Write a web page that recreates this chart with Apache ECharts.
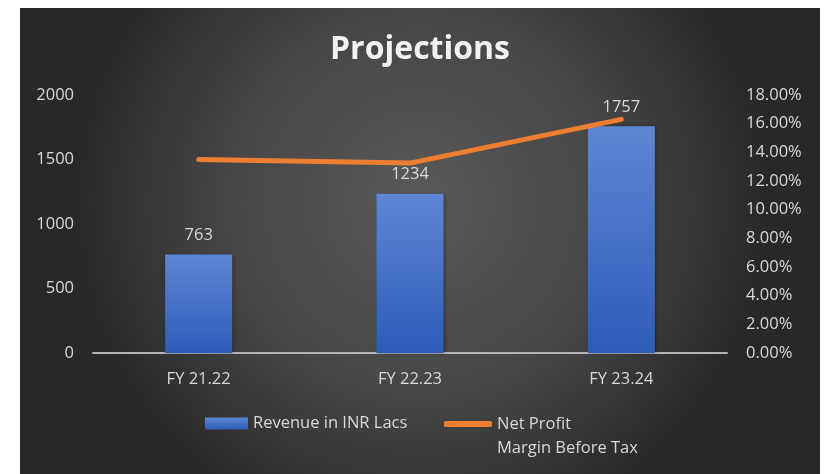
<!DOCTYPE html>
<html>
<head>
<meta charset="utf-8">
<script src="https://cdn.jsdelivr.net/npm/echarts@6/dist/echarts.min.js"></script>
<style>
  html, body { margin: 0; padding: 0; background: #fff; }
  #main { position: absolute; left: 20px; top: 8px; width: 800px; height: 466px; }
</style>
</head>
<body>
<div id="main"></div>
<script>
// data
const categories = ['FY 21.22', 'FY 22.23', 'FY 23.24']
const revenue = [763, 1234, 1757]
const margin = [13.5, 13.25, 16.3]   // percent
const leftTicks = [0, 2000, 500]     // min, max, interval
const rightTicks = [0, 18, 2]

const chart = echarts.init(document.getElementById('main'))
const labelColor = '#d9d9d9'
const font = 'Open Sans'
const fs = 16.5

const option = {
  backgroundColor: new echarts.graphic.RadialGradient(0.5, 0.42, 0.75, [
    { offset: 0, color: '#5a5a5a' },
    { offset: 0.55, color: '#464646' },
    { offset: 1, color: '#282828' }
  ]),
  title: {
    text: 'Projections',
    left: 'center',
    top: 21,
    textStyle: { color: '#f2f2f2', fontSize: 32, fontWeight: 'bold', fontFamily: font }
  },
  grid: { left: 73, right: 93, top: 87, bottom: 121 },
  legend: [
    {
      data: [{ name: 'Revenue in INR Lacs', icon: 'rect' }],
      left: 180,
      top: 402,
      itemWidth: 43,
      itemHeight: 12,
      textStyle: { color: labelColor, fontSize: fs, fontFamily: font }
    },
    {
      data: [{ name: 'Net Profit Margin Before Tax', icon: 'roundRect' }],
      left: 419,
      top: 375,
      itemWidth: 48,
      itemHeight: 6,
      // blank first line keeps the icon level with "Net Profit"
      formatter: () => ' \nNet Profit\nMargin Before Tax',
      textStyle: { color: labelColor, fontSize: fs, lineHeight: 24, fontFamily: font }
    }
  ],
  xAxis: {
    type: 'category',
    data: categories,
    axisTick: { show: false },
    axisLine: { lineStyle: { color: '#b4b4b4', width: 2 } },
    axisLabel: { color: labelColor, fontSize: fs, fontFamily: font, margin: 18 }
  },
  yAxis: [
    {
      type: 'value',
      min: leftTicks[0],
      max: leftTicks[1],
      interval: leftTicks[2],
      splitLine: { show: false },
      axisLine: { show: false },
      axisLabel: {
        color: labelColor, fontSize: fs, fontFamily: font, margin: 19,
        formatter: v => String(v)
      }
    },
    {
      type: 'value',
      min: rightTicks[0],
      max: rightTicks[1],
      interval: rightTicks[2],
      splitLine: { show: false },
      axisLine: { show: false },
      axisLabel: {
        color: labelColor, fontSize: fs, fontFamily: font, margin: 19,
        formatter: v => v.toFixed(2) + '%'
      }
    }
  ],
  series: [
    {
      name: 'Revenue in INR Lacs',
      type: 'bar',
      data: revenue,
      barWidth: 67,
      itemStyle: {
        color: new echarts.graphic.LinearGradient(0, 0, 0, 1, [
          { offset: 0, color: '#5f86d4' },
          { offset: 1, color: '#2d5cb8' }
        ]),
        shadowColor: 'rgba(0,0,0,0.35)',
        shadowBlur: 4,
        shadowOffsetX: 1
      },
      label: {
        show: true,
        position: 'top',
        distance: 11,
        color: labelColor,
        fontSize: fs,
        fontFamily: font
      }
    },
    {
      name: 'Net Profit Margin Before Tax',
      type: 'line',
      yAxisIndex: 1,
      data: margin,
      symbol: 'none',
      itemStyle: { color: '#ed7d31' },
      lineStyle: { color: '#ed7d31', width: 5, cap: 'round' }
    }
  ]
}
chart.setOption(option)
</script>
</body>
</html>
